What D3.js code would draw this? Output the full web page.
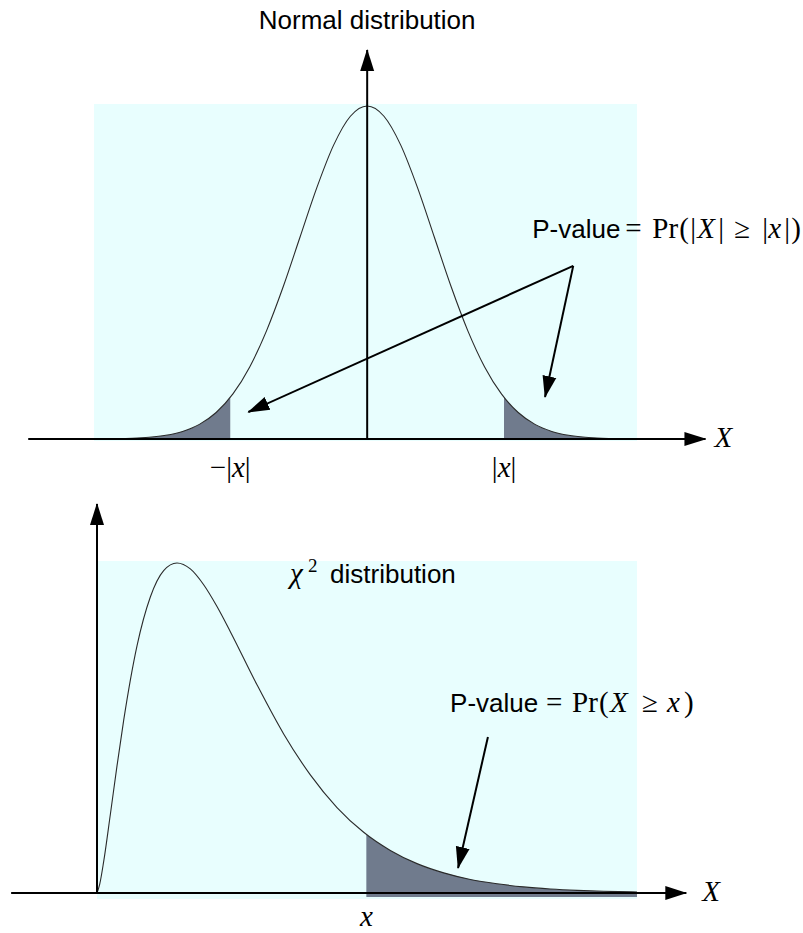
<!DOCTYPE html>
<html>
<head>
<meta charset="utf-8">
<script src="https://cdn.jsdelivr.net/npm/d3@7"></script>
<style>
  body { margin: 0; background: #fff; }
  svg { display: block; }
</style>
</head>
<body>
<svg id="chart" width="803" height="933"></svg>
<script>
// Standard normal density, expressed relative to its peak value
const normalZ = [-4.07, -4, -3.75, -3.5, -3.25, -3, -2.75, -2.5, -2.25, -2, -1.75, -1.5, -1.25, -1, -0.75, -0.5, -0.25,
                 0, 0.25, 0.5, 0.75, 1, 1.25, 1.5, 1.75, 2, 2.25, 2.5, 2.75, 3, 3.25, 3.5, 3.75, 4, 4.02];
const normalDensity = [0.0003, 0.0003, 0.0009, 0.0022, 0.0051, 0.0111, 0.0228, 0.0439, 0.0796, 0.1353, 0.2163, 0.3247, 0.4578, 0.6065, 0.7548, 0.8825, 0.9692,
                       1, 0.9692, 0.8825, 0.7548, 0.6065, 0.4578, 0.3247, 0.2163, 0.1353, 0.0796, 0.0439, 0.0228, 0.0111, 0.0051, 0.0022, 0.0009, 0.0003, 0.0003];
const normalCutoff = 2.04;   // |x|

// Chi-square density (5 degrees of freedom), expressed relative to its mode
const chiX = [0, 0.1, 0.25, 0.5, 0.75, 1, 1.5, 2, 2.5, 3, 3.5, 4, 4.5, 5, 6, 7, 8, 9, 10, 11, 12, 13, 14, 15, 16, 17, 18, 19, 20, 20.25];
const chiDensity = [0, 0.026, 0.095, 0.238, 0.385, 0.523, 0.749, 0.897, 0.977, 1, 0.982, 0.934, 0.868, 0.792, 0.631, 0.482, 0.358, 0.259, 0.184,
                    0.129, 0.089, 0.061, 0.041, 0.028, 0.0185, 0.0123, 0.0081, 0.0053, 0.0035, 0.003];
const chiCutoff = 10.1;      // x

const sans = "'Liberation Sans', Arial, Helvetica, sans-serif";
const serif = "'Liberation Serif', 'Times New Roman', serif";
const bgColor = "#e8fefe";
const tailColor = "#707b8d";
const curveColor = "#2a2a2a";

const svg = d3.select("#chart");
const defs = svg.append("defs");

defs.append("marker")
  .attr("id", "head")
  .attr("viewBox", "0 -8 22 16")
  .attr("refX", 21).attr("refY", 0)
  .attr("markerWidth", 22).attr("markerHeight", 16)
  .attr("markerUnits", "userSpaceOnUse")
  .attr("orient", "auto")
  .append("path").attr("d", "M0,-7L22,0L0,7Z").attr("fill", "#000");

// Appends a run of styled pieces to a text element; each piece may carry its own x offset.
function richText(sel, x0, pieces) {
  pieces.forEach(p => {
    const t = sel.append("tspan")
      .text(p.t)
      .attr("font-family", p.f === "sans" ? sans : serif)
      .attr("font-size", p.s || (p.f === "sans" ? 26 : 29))
      .attr("font-style", p.i ? "italic" : "normal");
    if (p.o !== undefined) t.attr("x", x0 + p.o);
    if (p.dy !== undefined) t.attr("dy", p.dy);
  });
}

function panel(cfg) {
  const x = d3.scaleLinear().domain(cfg.bgDomain).range(cfg.xRange);
  const y = d3.scaleLinear().domain([0, 1]).range(cfg.yRange);
  const g = svg.append("g");
  const pts = cfg.xs.map((v, i) => [v, cfg.ys[i]]);

  // pale background panel
  g.append("rect")
    .attr("x", x(cfg.bgDomain[0]))
    .attr("y", y(1) - 2)
    .attr("width", x(cfg.bgDomain[1]) - x(cfg.bgDomain[0]))
    .attr("height", y(0) + cfg.bgDrop - (y(1) - 2))
    .attr("fill", bgColor);

  // shaded tail(s)
  const area = d3.area()
    .x(d => x(d[0]))
    .y0(y(0) + cfg.shadeDrop)
    .y1(d => y(d[1]))
    .curve(d3.curveMonotoneX);
  cfg.tails.forEach((t, i) => {
    const id = cfg.id + "-tail" + i;
    defs.append("clipPath").attr("id", id)
      .append("rect")
      .attr("x", x(t[0])).attr("y", 0)
      .attr("width", x(t[1]) - x(t[0])).attr("height", 933);
    g.append("path").datum(pts)
      .attr("d", area)
      .attr("fill", tailColor)
      .attr("clip-path", `url(#${id})`);
  });

  // density curve
  g.append("path").datum(pts)
    .attr("d", d3.line().x(d => x(d[0])).y(d => y(d[1])).curve(d3.curveMonotoneX))
    .attr("fill", "none")
    .attr("stroke", curveColor)
    .attr("stroke-width", 1.1);

  // horizontal axis with arrow
  g.append("line")
    .attr("x1", x(cfg.axisX[0])).attr("x2", x(cfg.axisX[1]))
    .attr("y1", y(0)).attr("y2", y(0))
    .attr("stroke", "#000").attr("stroke-width", 2)
    .attr("marker-end", "url(#head)");

  // vertical axis with arrow
  g.append("line")
    .attr("x1", x(0)).attr("x2", x(0))
    .attr("y1", y(0)).attr("y2", y(cfg.axisYTop))
    .attr("stroke", "#000").attr("stroke-width", 2)
    .attr("marker-end", "url(#head)");

  // annotation arrows
  cfg.arrows.forEach(a => {
    g.append("line")
      .attr("x1", x(a[0][0])).attr("y1", y(a[0][1]))
      .attr("x2", x(a[1][0])).attr("y2", y(a[1][1]))
      .attr("stroke", "#000").attr("stroke-width", 2)
      .attr("marker-end", "url(#head)");
  });

  // axis name X
  richText(g.append("text").attr("x", x(cfg.axisX[1]) + cfg.xNameGap).attr("y", y(0) + 8),
           x(cfg.axisX[1]) + cfg.xNameGap, [{ t: "X", f: "serif", i: true }]);

  return { g, x, y };
}

// ---------- Normal distribution ----------
const normalPanel = panel({
  id: "normal",
  xs: normalZ, ys: normalDensity,
  bgDomain: [-4.07, 4.02], xRange: [94, 637],
  yRange: [439, 106],
  bgDrop: 2, shadeDrop: 0,
  tails: [[-4.07, -normalCutoff], [normalCutoff, 4.02]],
  axisX: [-5.05, 5.04], axisYTop: 1.168,
  xNameGap: 9,
  arrows: [
    [[3.07, 0.52], [-1.77, 0.081]],
    [[3.07, 0.52], [2.65, 0.126]]
  ]
});

normalPanel.g.append("text")
  .attr("x", normalPanel.x(0)).attr("y", 29)
  .attr("text-anchor", "middle")
  .attr("font-family", sans).attr("font-size", 26)
  .text("Normal distribution");

{
  const x0 = normalPanel.x(2.46);
  richText(normalPanel.g.append("text").attr("x", x0).attr("y", 238), x0, [
    { t: "P-value", f: "sans", o: 0 },
    { t: "=", o: 93 },
    { t: "Pr", o: 120 },
    { t: "(", o: 147 },
    { t: "|", o: 158 },
    { t: "X", i: true, o: 165 },
    { t: "|", o: 186 },
    { t: "≥", o: 202 },
    { t: "|", o: 230 },
    { t: "x", i: true, o: 236 },
    { t: "|", o: 252 },
    { t: ")", o: 259 }
  ]);
}

// tick labels -|x| and |x|
richText(normalPanel.g.append("text").attr("x", normalPanel.x(-normalCutoff)).attr("y", 477).attr("text-anchor", "middle"), 0, [
  { t: "−|" }, { t: "x", i: true }, { t: "|" }
]);
richText(normalPanel.g.append("text").attr("x", normalPanel.x(normalCutoff)).attr("y", 477).attr("text-anchor", "middle"), 0, [
  { t: "|" }, { t: "x", i: true }, { t: "|" }
]);

// ---------- Chi-square distribution ----------
const chiPanel = panel({
  id: "chi",
  xs: chiX, ys: chiDensity,
  bgDomain: [0, 20.25], xRange: [97, 637],
  yRange: [893, 563],
  bgDrop: 6, shadeDrop: 4,
  tails: [[chiCutoff, 20.25]],
  axisX: [-3.22, 22.1], axisYTop: 1.179,
  xNameGap: 16,
  arrows: [
    [[14.66, 0.473], [13.54, 0.076]]
  ]
});

{
  const x0 = chiPanel.x(7.24);
  richText(chiPanel.g.append("text").attr("x", x0).attr("y", 583), x0, [
    { t: "χ", i: true, o: 0 },
    { t: "2", s: 19, o: 18, dy: -11 },
    { t: "distribution", f: "sans", o: 40, dy: 11 }
  ]);
}

{
  const x0 = chiPanel.x(13.24);
  richText(chiPanel.g.append("text").attr("x", x0).attr("y", 712), x0, [
    { t: "P-value", f: "sans", o: 0 },
    { t: "=", o: 96 },
    { t: "Pr", o: 122 },
    { t: "(", o: 149 },
    { t: "X", i: true, o: 160 },
    { t: "≥", o: 192 },
    { t: "x", i: true, o: 217 },
    { t: ")", o: 234 }
  ]);
}

richText(chiPanel.g.append("text").attr("x", chiPanel.x(chiCutoff)).attr("y", 926).attr("text-anchor", "middle"), 0, [
  { t: "x", i: true }
]);
</script>
</body>
</html>
